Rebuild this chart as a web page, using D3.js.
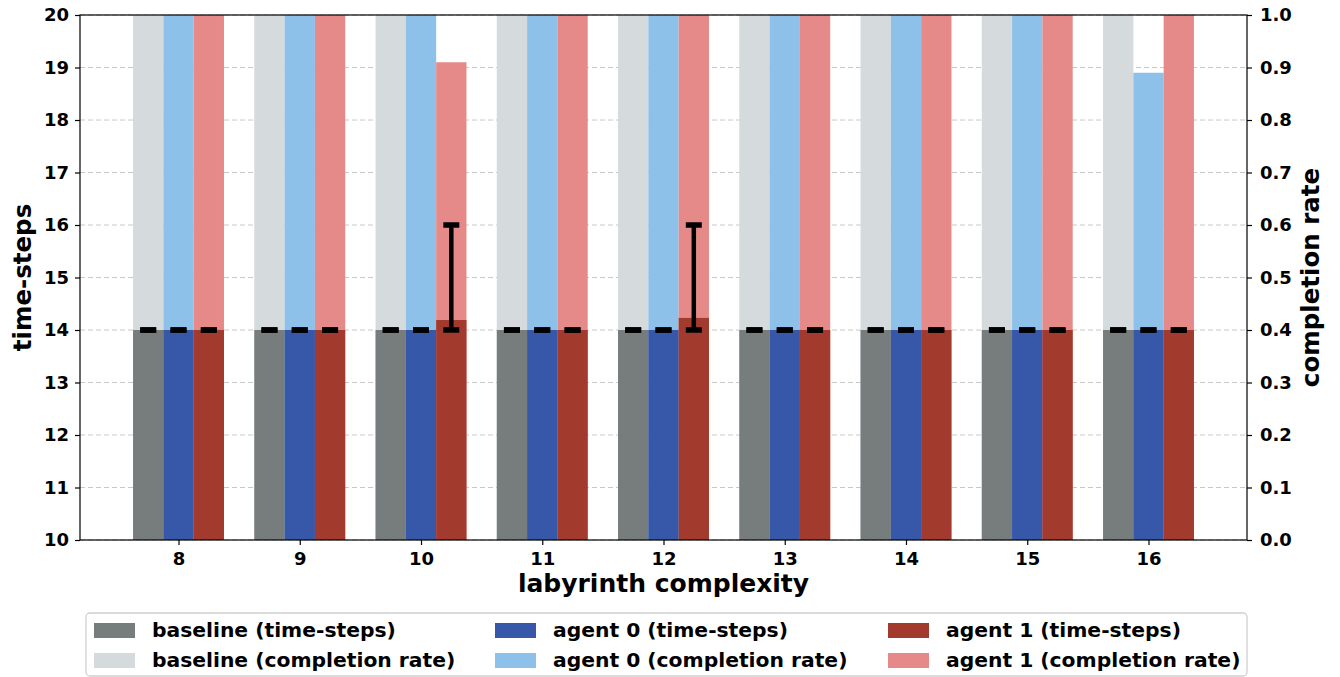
<!DOCTYPE html>
<html>
<head>
<meta charset="utf-8">
<script src="https://cdn.jsdelivr.net/npm/d3@7"></script>
<style>
  body { margin: 0; background: #fff; }
  text { font-family: "DejaVu Sans", sans-serif; font-weight: bold; }
</style>
</head>
<body>
<script>
// data
const categories = [8, 9, 10, 11, 12, 13, 14, 15, 16];
const baselineSteps = [14, 14, 14, 14, 14, 14, 14, 14, 14];
const agent0Steps = [14, 14, 14, 14, 14, 14, 14, 14, 14];
const agent1Steps = [14, 14, 14.19, 14, 14.23, 14, 14, 14, 14];
const baselineErrLow = [0, 0, 0, 0, 0, 0, 0, 0, 0];
const baselineErrHigh = [0, 0, 0, 0, 0, 0, 0, 0, 0];
const agent0ErrLow = [0, 0, 0, 0, 0, 0, 0, 0, 0];
const agent0ErrHigh = [0, 0, 0, 0, 0, 0, 0, 0, 0];
const agent1ErrLow = [0, 0, 0.19, 0, 0.23, 0, 0, 0, 0];
const agent1ErrHigh = [0, 0, 1.81, 0, 1.77, 0, 0, 0, 0];
const baselineRate = [1, 1, 1, 1, 1, 1, 1, 1, 1];
const agent0Rate = [1, 1, 1, 1, 1, 1, 1, 1, 0.89];
const agent1Rate = [1, 1, 0.91, 1, 1, 1, 1, 1, 1];
const leftTicks = [10, 11, 12, 13, 14, 15, 16, 17, 18, 19, 20];
const rightTicks = [0, 0.1, 0.2, 0.3, 0.4, 0.5, 0.6, 0.7, 0.8, 0.9, 1.0];

const W = 1340, H = 677;
const plot = { left: 80, right: 1247, top: 15, bottom: 540 };
const barW = 0.25;

const series = [
  { name: "baseline", steps: baselineSteps, lo: baselineErrLow, hi: baselineErrHigh, rate: baselineRate, off: -barW, dark: "#777c7c", light: "#d5dadd" },
  { name: "agent 0", steps: agent0Steps, lo: agent0ErrLow, hi: agent0ErrHigh, rate: agent0Rate, off: 0, dark: "#3757a9", light: "#8ec1ea" },
  { name: "agent 1", steps: agent1Steps, lo: agent1ErrLow, hi: agent1ErrHigh, rate: agent1Rate, off: barW, dark: "#a23b2d", light: "#e58a88" }
];

const svg = d3.select("body").append("svg")
  .attr("width", W)
  .attr("height", H);

const x = d3.scaleLinear().domain([7.1875, 16.8125]).range([plot.left, plot.right]);
const yL = d3.scaleLinear().domain([10, 20]).range([plot.bottom, plot.top]);
const yR = d3.scaleLinear().domain([0, 1]).range([plot.bottom, plot.top]);

svg.append("clipPath").attr("id", "clip")
  .append("rect")
  .attr("x", plot.left).attr("y", plot.top)
  .attr("width", plot.right - plot.left).attr("height", plot.bottom - plot.top);

// grid
svg.append("g").selectAll("line")
  .data(leftTicks)
  .enter().append("line")
  .attr("x1", plot.left).attr("x2", plot.right)
  .attr("y1", d => yL(d)).attr("y2", d => yL(d))
  .attr("stroke", "#c8c8c8")
  .attr("stroke-width", 1)
  .attr("stroke-dasharray", "5,3");

const g = svg.append("g").attr("clip-path", "url(#clip)");

// completion rate bars (behind)
series.forEach(s => {
  g.append("g").selectAll("rect")
    .data(categories)
    .enter().append("rect")
    .attr("x", (d, i) => x(d + s.off - barW / 2))
    .attr("width", x(barW) - x(0))
    .attr("y", (d, i) => yR(s.rate[i]))
    .attr("height", (d, i) => yR(0) - yR(s.rate[i]))
    .attr("fill", s.light);
});

// time-steps bars
series.forEach(s => {
  g.append("g").selectAll("rect")
    .data(categories)
    .enter().append("rect")
    .attr("x", (d, i) => x(d + s.off - barW / 2))
    .attr("width", x(barW) - x(0))
    .attr("y", (d, i) => yL(s.steps[i]))
    .attr("height", (d, i) => yL(10) - yL(s.steps[i]))
    .attr("fill", s.dark);
});

// error bars
series.forEach(s => {
  const eb = svg.append("g").selectAll("g")
    .data(categories)
    .enter().append("g");
  eb.append("line")
    .attr("x1", d => x(d + s.off)).attr("x2", d => x(d + s.off))
    .attr("y1", (d, i) => yL(s.steps[i] - s.lo[i]))
    .attr("y2", (d, i) => yL(s.steps[i] + s.hi[i]))
    .attr("stroke", "#000").attr("stroke-width", 4.5);
  [-1, 1].forEach(sign => {
    eb.append("line")
      .attr("x1", d => x(d + s.off) - 8).attr("x2", d => x(d + s.off) + 8)
      .attr("y1", (d, i) => yL(sign < 0 ? s.steps[i] - s.lo[i] : s.steps[i] + s.hi[i]))
      .attr("y2", (d, i) => yL(sign < 0 ? s.steps[i] - s.lo[i] : s.steps[i] + s.hi[i]))
      .attr("stroke", "#000").attr("stroke-width", 5.5);
  });
});

// spines
svg.append("rect")
  .attr("x", plot.left).attr("y", plot.top)
  .attr("width", plot.right - plot.left).attr("height", plot.bottom - plot.top)
  .attr("fill", "none").attr("stroke", "#000").attr("stroke-width", 1.2);

// axes
const axL = svg.append("g")
  .attr("transform", `translate(${plot.left},0)`)
  .call(d3.axisLeft(yL).tickValues(leftTicks).tickFormat(d3.format("d")).tickSize(5).tickPadding(6));
const axR = svg.append("g")
  .attr("transform", `translate(${plot.right},0)`)
  .call(d3.axisRight(yR).tickValues(rightTicks).tickFormat(d3.format(".1f")).tickSize(5).tickPadding(8));
const axB = svg.append("g")
  .attr("transform", `translate(0,${plot.bottom})`)
  .call(d3.axisBottom(x).tickValues(categories).tickFormat(d3.format("d")).tickSize(5).tickPadding(7));

[axL, axR, axB].forEach(ax => {
  ax.select(".domain").remove();
  ax.selectAll(".tick line").attr("stroke", "#000").attr("stroke-width", 1.2);
  ax.selectAll(".tick text")
    .attr("fill", "#000")
    .style("font-size", "18px")
    .style("font-family", "DejaVu Sans")
    .style("font-weight", "bold");
});

// axis labels
svg.append("text")
  .attr("transform", `translate(31,${(plot.top + plot.bottom) / 2}) rotate(-90)`)
  .attr("text-anchor", "middle")
  .style("font-size", "24.5px")
  .text("time-steps");

svg.append("text")
  .attr("transform", `translate(1319,${(plot.top + plot.bottom) / 2}) rotate(-90)`)
  .attr("text-anchor", "middle")
  .style("font-size", "24.5px")
  .text("completion rate");

svg.append("text")
  .attr("x", (plot.left + plot.right) / 2)
  .attr("y", 592)
  .attr("text-anchor", "middle")
  .style("font-size", "25px")
  .text("labyrinth complexity");

// legend
const legendItems = [];
series.forEach(s => {
  legendItems.push({ label: s.name + " (time-steps)", color: s.dark });
  legendItems.push({ label: s.name + " (completion rate)", color: s.light });
});
const colX = [94, 495, 888];
const rowY = [623, 653];

svg.append("rect")
  .attr("x", 86).attr("y", 613)
  .attr("width", 1161).attr("height", 63)
  .attr("rx", 4)
  .attr("fill", "#fff")
  .attr("stroke", "#d0d0d0")
  .attr("stroke-width", 1.3);

const legend = svg.selectAll(".legend")
  .data(legendItems)
  .enter().append("g")
  .attr("class", "legend")
  .attr("transform", (d, i) => `translate(${colX[Math.floor(i / 2)]},${rowY[i % 2]})`);

legend.append("rect")
  .attr("width", 41)
  .attr("height", 15)
  .attr("fill", d => d.color);

legend.append("text")
  .attr("x", 58)
  .attr("y", 14)
  .style("font-size", "20.3px")
  .text(d => d.label);
</script>
</body>
</html>
